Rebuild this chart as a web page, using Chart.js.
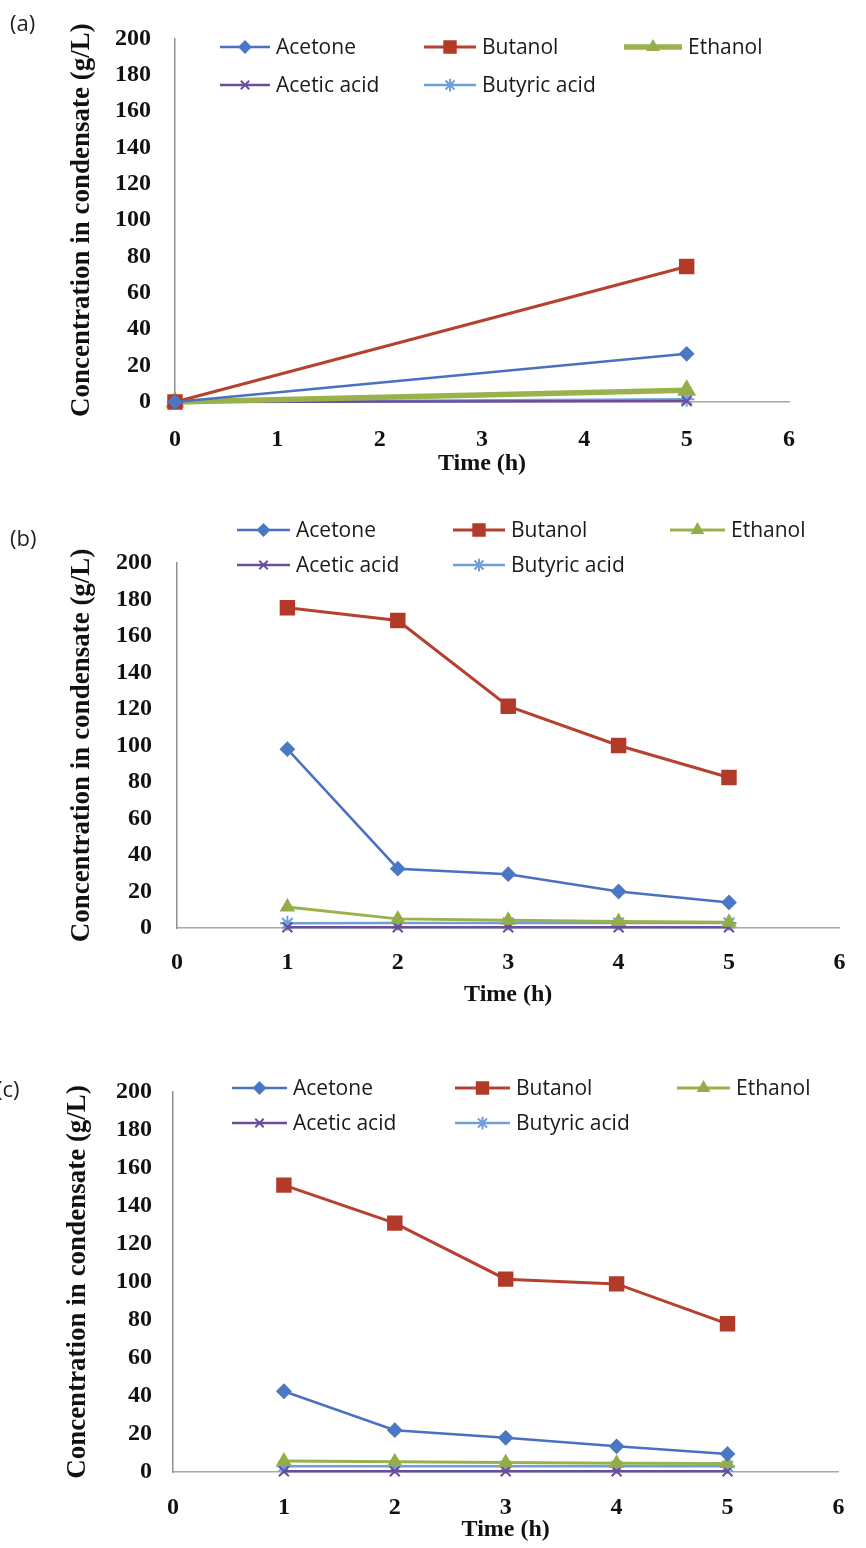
<!DOCTYPE html>
<html>
<head>
<meta charset="utf-8">
<script src="https://cdn.jsdelivr.net/npm/chart.js@4.4.1/dist/chart.umd.min.js"></script>
<style>
  html, body { margin: 0; padding: 0; background: #ffffff; }
  #page { position: relative; width: 866px; height: 1548px; overflow: hidden; background: #ffffff; }
  .panel { position: absolute; left: 0; width: 866px; }
  .panel canvas { display: block; }
  .tag { position: absolute; font-family: 'Open Sans', sans-serif; font-size: 22px; line-height: 30px; color: #222; }
</style>
</head>
<body>
<div id="page">
  <div class="panel" style="top:0px;height:490px"><canvas id="chartA" width="866" height="490"></canvas></div>
  <div class="panel" style="top:490px;height:520px"><canvas id="chartB" width="866" height="520"></canvas></div>
  <div class="panel" style="top:1010px;height:538px"><canvas id="chartC" width="866" height="538"></canvas></div>
  <div class="tag" style="left:10px;top:7px">(a)</div>
  <div class="tag" style="left:10px;top:522px">(b)</div>
  <div class="tag" style="left:-4px;top:1073px">(c)</div>
</div>
<script>
// Condensate composition over time, three runs (a), (b), (c)
const seriesNames = ['Acetone', 'Butanol', 'Ethanol', 'Acetic acid', 'Butyric acid'];
const xTicks = [0, 1, 2, 3, 4, 5, 6];
const yTicks = [0, 20, 40, 60, 80, 100, 120, 140, 160, 180, 200];

// Run (a)
const timeA = [0, 5];
const acetoneA = [0, 26.5];
const butanolA = [0, 74.5];
const ethanolA = [0, 6.5];
const aceticA = [0, 0.5];
const butyricA = [0, 1.5];

// Run (b)
const timeB = [1, 2, 3, 4, 5];
const acetoneB = [98, 32.5, 29.5, 20, 14];
const butanolB = [175.5, 168.5, 121.5, 100, 82.5];
const ethanolB = [11.5, 5, 4.2, 3.6, 3.2];
const aceticB = [0.4, 0.4, 0.4, 0.4, 0.4];
const butyricB = [2.6, 2.8, 2.8, 2.7, 2.7];

// Run (c)
const timeC = [1, 2, 3, 4, 5];
const acetoneC = [42.5, 22, 18, 13.5, 9.5];
const butanolC = [151, 131, 101.5, 99, 78];
const ethanolC = [5.8, 5.4, 5, 4.6, 4.5];
const aceticC = [0.4, 0.4, 0.4, 0.4, 0.4];
const butyricC = [3, 3, 3, 3, 3];

// Line / marker look for each series
const seriesStyle = [
  { color: '#4a70bf', marker: '#4a78c4', point: 'rectRot', radius: 6.5, width: 2.5 },
  { color: '#b5412e', marker: '#b23a28', point: 'rect', radius: 9.5, width: 3 },
  { color: '#9ab24c', marker: '#94ad48', point: 'triangle', radius: 7, width: 3 },
  { color: '#6a4e9c', marker: '#6a4e9c', point: 'crossRot', radius: 7, width: 2.5 },
  { color: '#6f9fd8', marker: '#6f9fd8', point: 'star', radius: 7.5, width: 2.5 }
];

const serifBold = { family: "'Liberation Serif', 'Times New Roman', serif", weight: 'bold' };

function buildDatasets(times, seriesValues, widthOverride, radiusOverride) {
  return seriesValues.map((vals, i) => {
    const st = seriesStyle[i];
    const w = (widthOverride && widthOverride[i]) || st.width;
    const r = (radiusOverride && radiusOverride[i]) || st.radius;
    return {
      label: seriesNames[i],
      data: times.map((t, k) => ({ x: t, y: vals[k] })),
      borderColor: st.color,
      backgroundColor: st.marker,
      borderWidth: w,
      pointStyle: st.point,
      pointRadius: r,
      pointBackgroundColor: st.marker,
      pointBorderColor: st.marker,
      pointBorderWidth: 2,
      legendRadius: st.radius,
      tension: 0,
      clip: false
    };
  });
}

// Legend drawn inside the plot, two rows in three columns
const panelLegend = {
  id: 'panelLegend',
  afterDraw(chart, args, opts) {
    if (!opts || !opts.rows) return;
    const ctx = chart.ctx;
    ctx.save();
    const slots = [[0, 0], [0, 1], [0, 2], [1, 0], [1, 1]];
    chart.data.datasets.forEach((ds, i) => {
      const [r, c] = slots[i];
      const y = opts.rows[r];
      const x0 = opts.cols[c];
      const len = opts.lens[c];
      ctx.strokeStyle = ds.borderColor;
      ctx.lineWidth = ds.borderWidth;
      ctx.beginPath();
      ctx.moveTo(x0, y);
      ctx.lineTo(x0 + len, y);
      ctx.stroke();
      ctx.fillStyle = ds.pointBackgroundColor;
      ctx.strokeStyle = ds.pointBorderColor;
      ctx.lineWidth = ds.pointBorderWidth;
      Chart.helpers.drawPoint(ctx, {
        pointStyle: ds.pointStyle,
        radius: ds.legendRadius * 0.85,
        borderWidth: ds.pointBorderWidth,
        rotation: 0
      }, x0 + len / 2, y);
      ctx.fillStyle = '#1a1a1a';
      ctx.font = opts.font;
      ctx.textAlign = 'left';
      ctx.textBaseline = 'middle';
      ctx.fillText(ds.label, x0 + len + opts.gap, y + 1);
    });
    ctx.restore();
  }
};

const panels = [
  {
    id: 'chartA', top: 0, height: 490,
    area: { left: 175, right: 789, top: 30, bottom: 402 },
    times: timeA, values: [acetoneA, butanolA, ethanolA, aceticA, butyricA],
    widths: [2.5, 3, 5.5, 2.5, 2.5], radii: [6.5, 9.5, 9, 7, 7.5],
    yLabelGap: 24, yTitleX: 82, xLabelY: 440, xTitleY: 464,
    legend: { rows: [47, 85], cols: [220, 424, 624], lens: [50, 52, 58] }
  },
  {
    id: 'chartB', top: 490, height: 520,
    area: { left: 177, right: 843, top: 73, bottom: 438 },
    times: timeB, values: [acetoneB, butanolB, ethanolB, aceticB, butyricB],
    widths: null, radii: null,
    yLabelGap: 25, yTitleX: 82, xLabelY: 473, xTitleY: 505,
    legend: { rows: [40, 75], cols: [237, 453, 670], lens: [53, 52, 55] }
  },
  {
    id: 'chartC', top: 1010, height: 538,
    area: { left: 173, right: 854, top: 82, bottom: 462 },
    times: timeC, values: [acetoneC, butanolC, ethanolC, aceticC, butyricC],
    widths: null, radii: null,
    yLabelGap: 21, yTitleX: 78, xLabelY: 498, xTitleY: 520,
    legend: { rows: [78, 113], cols: [232, 455, 677], lens: [55, 55, 53] }
  }
];

const tickSize = 24;
const titleSize = 27;
const xTitleSize = 24;

panels.forEach((p) => {
  const a = p.area;
  const tickLH = tickSize * 1.2;
  const yTitleLH = titleSize * 1.2;
  const xTitleLH = xTitleSize * 1.2;
  new Chart(document.getElementById(p.id), {
    type: 'line',
    data: { datasets: buildDatasets(p.times, p.values, p.widths, p.radii) },
    plugins: [panelLegend],
    options: {
      responsive: false,
      animation: false,
      devicePixelRatio: 1,
      layout: { padding: { top: a.top, right: 866 - a.right, left: 0, bottom: 0 } },
      plugins: {
        legend: { display: false },
        tooltip: { enabled: false },
        panelLegend: {
          rows: p.legend.rows, cols: p.legend.cols, lens: p.legend.lens,
          gap: 6, font: "21px 'Open Sans', sans-serif"
        }
      },
      scales: {
        x: {
          type: 'linear',
          min: xTicks[0],
          max: xTicks[xTicks.length - 1],
          afterBuildTicks: (s) => { s.ticks = xTicks.map((v) => ({ value: v })); },
          afterFit: (s) => { s.height = p.height - a.bottom; },
          grid: { display: false, drawTicks: false },
          border: { display: true, color: '#a8a8a8', width: 1.5 },
          ticks: {
            color: '#111',
            padding: (p.xLabelY - a.bottom) - tickLH / 2,
            font: { ...serifBold, size: tickSize },
            maxRotation: 0
          },
          title: {
            display: true,
            text: 'Time (h)',
            color: '#111',
            font: { ...serifBold, size: xTitleSize },
            padding: { top: 0, bottom: p.height - p.xTitleY - xTitleLH / 2 }
          }
        },
        y: {
          type: 'linear',
          min: yTicks[0],
          max: yTicks[yTicks.length - 1],
          afterBuildTicks: (s) => { s.ticks = yTicks.map((v) => ({ value: v })); },
          afterFit: (s) => { s.width = a.left; },
          grid: { display: false, drawTicks: false },
          border: { display: true, color: '#8f8f8f', width: 1.5 },
          ticks: {
            color: '#111',
            padding: p.yLabelGap,
            font: { ...serifBold, size: tickSize }
          },
          title: {
            display: true,
            text: 'Concentration in condensate (g/L)',
            color: '#111',
            font: { ...serifBold, size: titleSize },
            padding: { top: p.yTitleX - yTitleLH / 2, bottom: 0 }
          }
        }
      }
    }
  });
});
</script>
</body>
</html>
